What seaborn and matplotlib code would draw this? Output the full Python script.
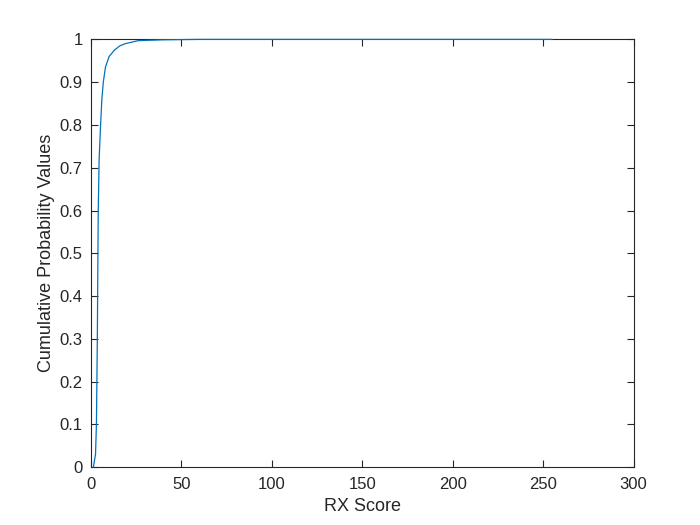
import matplotlib
matplotlib.use("Agg")
import matplotlib.pyplot as plt
import seaborn as sns
import pandas as pd

rx_score = [1.3, 2.5, 3.0, 3.5, 4.0, 4.5, 5.3, 6.0, 6.8, 8.0, 10.0, 13.0, 16.0, 19.0, 26.0, 40.0, 60.0, 100.0, 150.0, 200.0, 255.0]
cum_prob = [0.0, 0.03, 0.10, 0.30, 0.60, 0.72, 0.80, 0.86, 0.90, 0.935, 0.96, 0.975, 0.985, 0.99, 0.997, 0.999, 1.0, 1.0, 1.0, 1.0, 1.0]
x_ticks = [0, 50, 100, 150, 200, 250, 300]
y_ticks = [0, 0.1, 0.2, 0.3, 0.4, 0.5, 0.6, 0.7, 0.8, 0.9, 1]
y_labels = ["0", "0.1", "0.2", "0.3", "0.4", "0.5", "0.6", "0.7", "0.8", "0.9", "1"]

sns.set_theme(style="white")
plt.rcParams['font.family'] = ['Liberation Sans', 'DejaVu Sans']

df = pd.DataFrame({"RX Score": rx_score, "Cumulative Probability Values": cum_prob})

fig = plt.figure(figsize=(7, 5.25), dpi=100)
ax = fig.add_axes([0.13, 0.11, 0.775, 0.815])
sns.lineplot(data=df, x="RX Score", y="Cumulative Probability Values", ax=ax,
             color="#0072BD", linewidth=0.9, zorder=5, clip_on=False)
ax.set_xlim(0, 300)
ax.set_ylim(0, 1)
ax.set_xticks(x_ticks)
ax.set_xticklabels([str(t) for t in x_ticks])
ax.set_yticks(y_ticks)
ax.set_yticklabels(y_labels)
for s in ax.spines.values():
    s.set_color("#262626")
    s.set_linewidth(0.8)
    s.set_visible(True)
    s.set_zorder(2)
ax.tick_params(direction="in", length=5, width=0.8, colors="#262626", labelsize=12,
               top=True, right=True, bottom=True, left=True, labelcolor="#262626")
ax.tick_params(axis="x", pad=7)
ax.tick_params(axis="y", pad=6)
ax.set_xlabel("RX Score", fontsize=13, color="#262626", labelpad=4)
ax.set_ylabel("Cumulative Probability Values", fontsize=13, color="#262626", labelpad=3)
ax.grid(False)
fig.savefig("out.png", dpi=100)
